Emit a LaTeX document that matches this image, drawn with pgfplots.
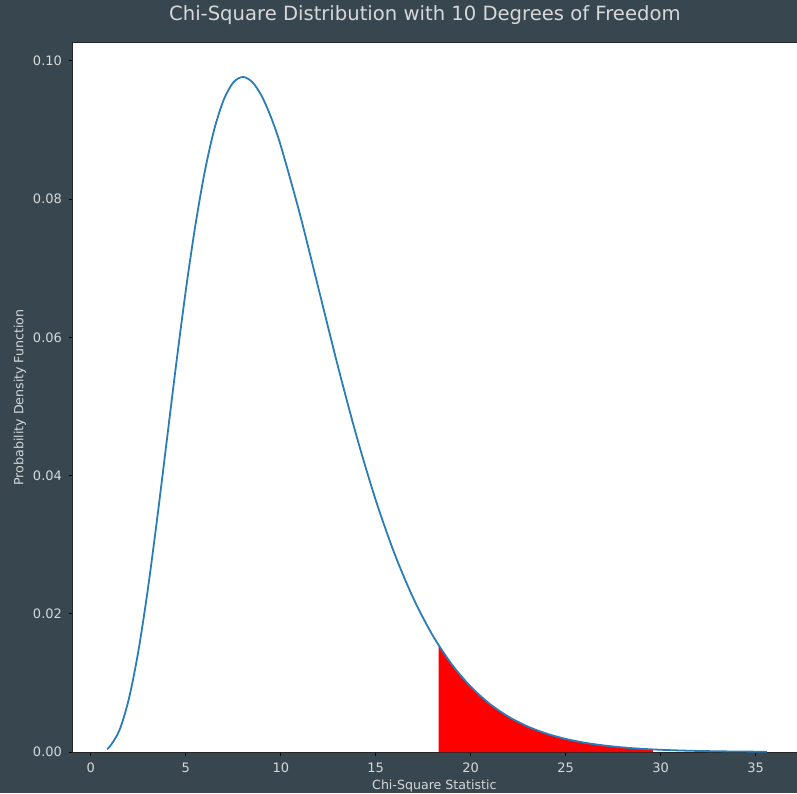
\documentclass[border=0pt]{standalone}
\usepackage{fontspec}
\setmainfont{DejaVu Sans}
\usepackage{pgfplots}
\pgfplotsset{compat=1.18}
\definecolor{bg}{HTML}{37464F}
\definecolor{txt}{HTML}{D8D8D8}
\definecolor{mplblue}{HTML}{2A7DB8}
\begin{document}
\begin{tikzpicture}
\fill[bg] (-36.5pt,-20.5pt) rectangle (362pt,376pt);
\begin{axis}[
    at={(0,0)}, anchor=south west,
    scale only axis, width=363.5pt, height=354.5pt,
    xmin=-0.94, xmax=37.34, ymin=0, ymax=0.1026,
    axis background/.style={fill=white},
    axis line style={black!85, line width=0.5pt},
    xtick={0,5,10,15,20,25,30,35},
    ytick={0,0.02,0.04,0.06,0.08,0.10},
    scaled y ticks=false,
    yticklabel style={/pgf/number format/fixed, /pgf/number format/fixed zerofill, /pgf/number format/precision=2},
    /pgf/number format/assume math mode=true,
    tick pos=left, tick align=outside, major tick length=2pt,
    tick style={black, line width=0.5pt},
    ticklabel style={text=txt, font=\fontsize{6.5}{7.5}\selectfont},
    xlabel={Chi-Square Statistic},
    ylabel={Probability Density Function},
    label style={text=txt, font=\fontsize{6.3}{7.5}\selectfont},
    xlabel style={at={(axis description cs:0.497,-0.048)}, anchor=center},
    ylabel style={at={(axis description cs:-0.0729,0.5)}, anchor=center},
    every axis title shift=0pt,
    title={Chi-Square Distribution with 10 Degrees of Freedom},
    title style={at={(axis description cs:0.484,1.0395)}, anchor=center, text=txt, font=\fontsize{9.8}{11}\selectfont},
]
% rejection region (alpha = 0.05)
\addplot[fill=red, draw=none] coordinates {
(18.307,0.015481) (19,0.012702) (20,0.009458) (21,0.006973) (22,0.005094)
(23,0.003691) (24,0.002654) (25,0.001896) (26,0.001345) (27,0.000949)
(28,0.000666) (29,0.000464) (29.588,0.000375)} \closedcycle;
% chi-square pdf, k = 10
\addplot[mplblue, line width=0.9pt, smooth] coordinates {
(0.85,0.000444) (1,0.000790) (1.5,0.003114) (2,0.007664) (2.5,0.014572)
(3,0.023533) (3.5,0.033954) (4,0.045112) (4.5,0.056276) (5,0.066801)
(5.5,0.076169) (6,0.084016) (6.5,0.090122) (7,0.094406) (7.5,0.096891)
(8,0.097683) (8.5,0.096953) (9,0.094904) (9.5,0.091755) (10,0.087734)
(11,0.077910) (12,0.066928) (13,0.055911) (14,0.045613) (15,0.036457)
(16,0.028626) (17,0.022128) (18,0.016869) (19,0.012702) (20,0.009458)
(21,0.006973) (22,0.005094) (23,0.003691) (24,0.002654) (25,0.001896)
(26,0.001345) (27,0.000949) (28,0.000666) (29,0.000464) (30,0.000323)
(31,0.000223) (32,0.000154) (33,0.000105) (34,0.000072) (35,0.000049)
(35.6,0.000039)};
\end{axis}
\pgfresetboundingbox
\useasboundingbox (-36.5pt,-20.5pt) rectangle (362pt,376pt);
\end{tikzpicture}
\end{document}
